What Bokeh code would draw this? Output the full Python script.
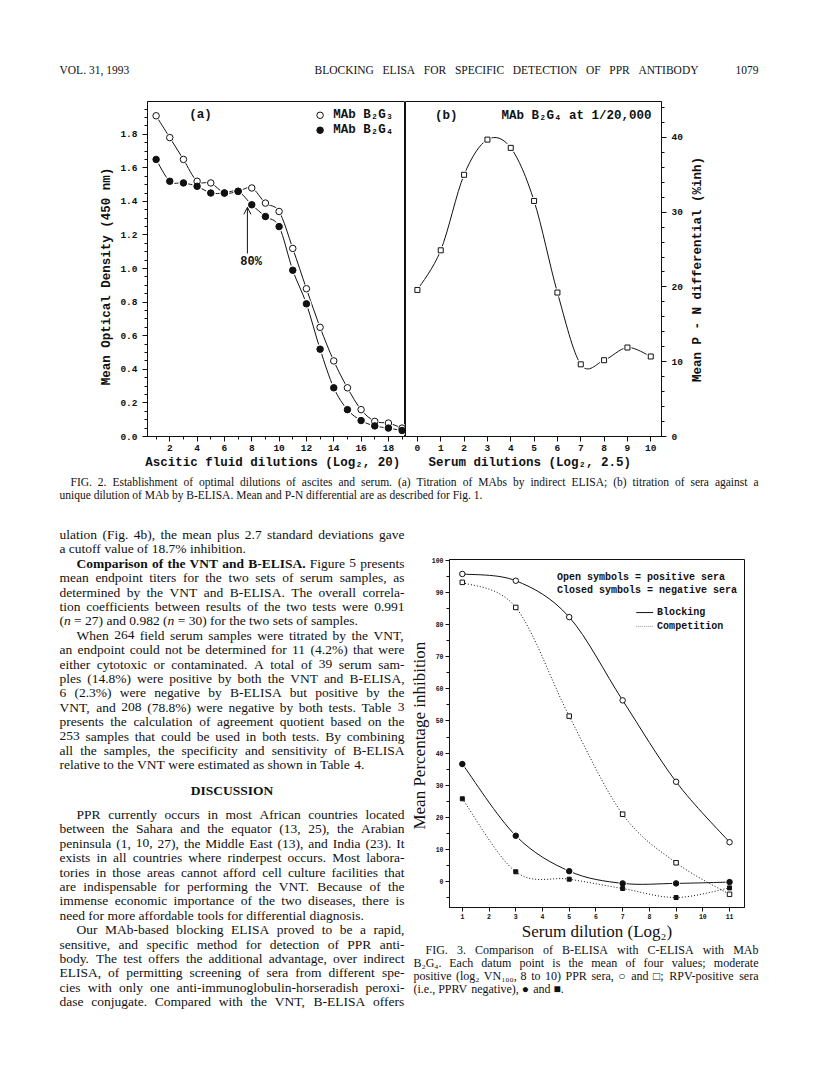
import math
from bokeh.plotting import figure
from bokeh.layouts import column, row
from bokeh.models import Range1d, Arrow, OpenHead, FixedTicker, NumeralTickFormatter
from bokeh.embed import file_html
from bokeh.resources import INLINE
from bokeh.core.properties import value

MONO = "Liberation Mono"
SERIF = "Liberation Serif"

# ---------------- data : Fig. 2a ----------------
a_dilution = list(range(1, 20))
a_b2g3 = [1.91, 1.78, 1.65, 1.52, 1.51, 1.45, 1.46, 1.48, 1.39, 1.34, 1.12, 0.88, 0.65, 0.45, 0.29, 0.16, 0.09, 0.08, 0.05]
a_b2g4 = [1.65, 1.52, 1.51, 1.49, 1.45, 1.45, 1.46, 1.38, 1.31, 1.25, 0.99, 0.79, 0.52, 0.29, 0.16, 0.095, 0.063, 0.05, 0.036]
a_xticks = [2, 4, 6, 8, 10, 12, 14, 16, 18]
a_yticks = [0.0, 0.2, 0.4, 0.6, 0.8, 1.0, 1.2, 1.4, 1.6, 1.8]

# ---------------- data : Fig. 2b ----------------
b_dilution = list(range(0, 11))
b_pn = [19.6, 24.9, 35.0, 39.7, 38.6, 31.5, 19.25, 9.65, 10.2, 11.9, 10.7]
b_xticks = list(range(0, 11))
b_yticks = [0, 10, 20, 30, 40]

# ---------------- data : Fig. 3 ----------------
f3_dilution = [1, 3, 5, 7, 9, 11]
f3_block_pos = [95.7, 93.6, 82.3, 56.4, 31.1, 12.3]
f3_comp_pos = [93.1, 85.3, 51.5, 21.0, 5.9, -3.9]
f3_block_neg = [36.6, 14.3, 3.3, -0.5, -0.5, -0.1]
f3_comp_neg = [25.8, 3.1, 0.8, -2.1, -4.9, -1.9]
f3_xticks = list(range(1, 12))
f3_yticks = [0, 10, 20, 30, 40, 50, 60, 70, 80, 90, 100]

# ---------------- texts ----------------
header_left = "VOL. 31, 1993"
header_title = "BLOCKING ELISA FOR SPECIFIC DETECTION OF PPR ANTIBODY"
header_page = "1079"
fig2b_ylabel = "Mean P - N differential (%inh)"

cap2_lines = [
    ("FIG. 2. Establishment of optimal dilutions of ascites and serum. (a) Titration of MAbs by indirect ELISA; (b) titration of sera against a", True, 11),
    ("unique dilution of MAb by B-ELISA. Mean and P-N differential are as described for Fig. 1.", False, 0),
]

body_lines_1 = [
    ("ulation (Fig. 4b), the mean plus 2.7 standard deviations gave", True, 0),
    ("a cutoff value of 18.7% inhibition.", False, 0),
    ("*Comparison of the VNT and B-ELISA.* Figure 5 presents", True, 17),
    ("mean endpoint titers for the two sets of serum samples, as", True, 0),
    ("determined by the VNT and B-ELISA. The overall correla-", True, 0),
    ("tion coefficients between results of the two tests were 0.991", True, 0),
    ("(_n_ = 27) and 0.982 (_n_ = 30) for the two sets of samples.", False, 0),
    ("When 264 field serum samples were titrated by the VNT,", True, 17),
    ("an endpoint could not be determined for 11 (4.2%) that were", True, 0),
    ("either cytotoxic or contaminated. A total of 39 serum sam-", True, 0),
    ("ples (14.8%) were positive by both the VNT and B-ELISA,", True, 0),
    ("6 (2.3%) were negative by B-ELISA but positive by the", True, 0),
    ("VNT, and 208 (78.8%) were negative by both tests. Table 3", True, 0),
    ("presents the calculation of agreement quotient based on the", True, 0),
    ("253 samples that could be used in both tests. By combining", True, 0),
    ("all the samples, the specificity and sensitivity of B-ELISA", True, 0),
    ("relative to the VNT were estimated as shown in Table 4.", False, 0),
]
discussion_head = "DISCUSSION"
body_lines_2 = [
    ("PPR currently occurs in most African countries located", True, 17),
    ("between the Sahara and the equator (13, 25), the Arabian", True, 0),
    ("peninsula (1, 10, 27), the Middle East (13), and India (23). It", True, 0),
    ("exists in all countries where rinderpest occurs. Most labora-", True, 0),
    ("tories in those areas cannot afford cell culture facilities that", True, 0),
    ("are indispensable for performing the VNT. Because of the", True, 0),
    ("immense economic importance of the two diseases, there is", True, 0),
    ("need for more affordable tools for differential diagnosis.", False, 0),
    ("Our MAb-based blocking ELISA proved to be a rapid,", True, 17),
    ("sensitive, and specific method for detection of PPR anti-", True, 0),
    ("body. The test offers the additional advantage, over indirect", True, 0),
    ("ELISA, of permitting screening of sera from different spe-", True, 0),
    ("cies with only one anti-immunoglobulin-horseradish peroxi-", True, 0),
    ("dase conjugate. Compared with the VNT, B-ELISA offers", True, 0),
]
cap3_lines = [
    ("FIG. 3. Comparison of B-ELISA with C-ELISA with MAb", True, 12),
    ("B\u2082G\u2084. Each datum point is the mean of four values; moderate", True, 0),
    ("positive (log\u2082 VN\u2081\u2080\u2080, 8 to 10) PPR sera, \u25cb and \u25a1; RPV-positive sera", True, 0),
    ("(i.e., PPRV negative), \u25cf and \u25a0.", False, 0),
]

# ---------------- font metrics (Times, 1/1000 em) ----------------
_TR = {' ': 250, '!': 333, '"': 408, '%': 833, '&': 778, "'": 333, '(': 333, ')': 333, ',': 250, '-': 333,
       '.': 250, '/': 278, ':': 278, ';': 278, '=': 564, '?': 444,
       'A': 722, 'B': 667, 'C': 667, 'D': 722, 'E': 611, 'F': 556, 'G': 722, 'H': 722, 'I': 333, 'J': 389,
       'K': 722, 'L': 611, 'M': 889, 'N': 722, 'O': 722, 'P': 556, 'Q': 722, 'R': 667, 'S': 556, 'T': 611,
       'U': 722, 'V': 722, 'W': 944, 'X': 722, 'Y': 722, 'Z': 611,
       'a': 444, 'b': 500, 'c': 444, 'd': 500, 'e': 444, 'f': 333, 'g': 500, 'h': 500, 'i': 278, 'j': 278,
       'k': 500, 'l': 278, 'm': 778, 'n': 500, 'o': 500, 'p': 500, 'q': 500, 'r': 333, 's': 389, 't': 278,
       'u': 500, 'v': 500, 'w': 722, 'x': 500, 'y': 500, 'z': 444,
       '\u2080': 330, '\u2081': 330, '\u2082': 330, '\u2084': 330,
       '\u25cb': 700, '\u25a1': 700, '\u25cf': 700, '\u25a0': 700}
_TB = dict(_TR)
_TB.update({'A': 722, 'B': 667, 'C': 722, 'D': 722, 'E': 667, 'F': 611, 'G': 778, 'H': 778, 'I': 389, 'J': 500,
            'K': 778, 'L': 667, 'M': 944, 'N': 722, 'O': 778, 'P': 611, 'Q': 778, 'R': 722, 'S': 556, 'T': 667,
            'U': 722, 'V': 722, 'W': 1000, 'X': 722, 'Y': 722, 'Z': 667,
            'a': 500, 'b': 556, 'c': 444, 'd': 556, 'e': 444, 'f': 333, 'g': 500, 'h': 556, 'i': 278, 'j': 333,
            'k': 556, 'l': 278, 'm': 833, 'n': 556, 'o': 500, 'p': 556, 'q': 556, 'r': 444, 's': 389, 't': 333,
            'u': 556, 'v': 500, 'w': 722, 'x': 500, 'y': 500, 'z': 444})
for _d in '0123456789':
    _TR[_d] = 500
    _TB[_d] = 500


def seg_width(s, style, size):
    tab = _TB if style == "bold" else _TR
    return sum(tab.get(c, 500) for c in s) * size / 1000.0


def parse_words(txt):
    words, cur, seg = [], [], ""
    bold = ital = False
    for ch in txt + " ":
        st = "bold" if bold else ("italic" if ital else "normal")
        if ch in "*_":
            if seg:
                cur.append((seg, st))
                seg = ""
            if ch == "*":
                bold = not bold
            else:
                ital = not ital
        elif ch == " ":
            if seg:
                cur.append((seg, st))
                seg = ""
            if cur:
                words.append(cur)
                cur = []
        else:
            seg += ch
    return words


def set_lines(fig, specs, x_left, width, ys, size, ox, oy, font=SERIF):
    out = {"normal": ([], [], []), "bold": ([], [], []), "italic": ([], [], [])}
    for (txt, just, ind), y in zip(specs, ys):
        words = parse_words(txt)
        wl = [sum(seg_width(s, st, size) for s, st in w) for w in words]
        n = len(words)
        if just and n > 1:
            gap = (width - ind - sum(wl)) / (n - 1)
        else:
            gap = 0.25 * size
        x = x_left + ind
        for w, l in zip(words, wl):
            xx = x
            for s, st in w:
                out[st][0].append(xx - ox)
                out[st][1].append(y - oy)
                out[st][2].append(s)
                xx += seg_width(s, st, size)
            x += l + gap
    for st, (xs, yy, ts) in out.items():
        if xs:
            fig.text(x=xs, y=yy, text=ts, text_font=value(font), text_font_style=st,
                     text_font_size=f"{size}px", text_baseline="middle", text_align="left",
                     text_color="#111111")


def text_fig(w, h, flip=True):
    yr = Range1d(h, 0) if flip else Range1d(0, h)
    p = figure(width=w, height=h, x_range=Range1d(0, w), y_range=yr,
               toolbar_location=None, output_backend="svg",
               min_border_left=0, min_border_right=0, min_border_top=0, min_border_bottom=0)
    p.frame_align = False
    p.axis.visible = False
    p.xgrid.visible = False
    p.ygrid.visible = False
    p.outline_line_color = None
    p.background_fill_color = "white"
    p.border_fill_color = "white"
    return p


def catmull(xs, ys):
    pts = list(zip(xs, ys))
    n = len(pts)
    d = {k: [] for k in ("x0", "y0", "x1", "y1", "cx0", "cy0", "cx1", "cy1")}
    for i in range(n - 1):
        p0 = pts[i - 1] if i > 0 else pts[i]
        p1, p2 = pts[i], pts[i + 1]
        p3 = pts[i + 2] if i + 2 < n else pts[i + 1]
        d["x0"].append(p1[0]); d["y0"].append(p1[1])
        d["x1"].append(p2[0]); d["y1"].append(p2[1])
        d["cx0"].append(p1[0] + (p2[0] - p0[0]) / 6.0)
        d["cy0"].append(p1[1] + (p2[1] - p0[1]) / 6.0)
        d["cx1"].append(p2[0] - (p3[0] - p1[0]) / 6.0)
        d["cy1"].append(p2[1] - (p3[1] - p1[1]) / 6.0)
    return d


def curve(p, xs, ys, dash="solid", width=1.0, color="#111111"):
    d = catmull(xs, ys)
    p.bezier(x0=d["x0"], y0=d["y0"], x1=d["x1"], y1=d["y1"], cx0=d["cx0"], cy0=d["cy0"],
             cx1=d["cx1"], cy1=d["cy1"], line_color=color, line_width=width, line_dash=dash)


def style_axes(p, lab_size, lab_font=MONO, lab_style="bold"):
    p.xgrid.visible = False
    p.ygrid.visible = False
    p.outline_line_color = "#111111"
    p.outline_line_width = 1
    p.outline_line_alpha = 1.0
    p.background_fill_color = "white"
    p.border_fill_color = "white"
    for ax in p.axis:
        ax.axis_line_color = "#111111"
        ax.major_tick_line_color = "#111111"
        ax.minor_tick_line_color = "#111111"
        ax.major_tick_in = 0
        ax.major_tick_out = 5
        ax.minor_tick_in = 0
        ax.minor_tick_out = 3
        ax.major_label_text_font = lab_font
        ax.major_label_text_font_style = lab_style
        ax.major_label_text_font_size = lab_size
        ax.major_label_text_color = "#111111"
        ax.axis_label_text_color = "#111111"


# ================= header =================
hdr = text_fig(800, 88)
set_lines(hdr, [(header_left, False, 0)], 67, 100, [77], 11.5, 8, 8)
set_lines(hdr, [(header_title, True, 0)], 322, 384, [77], 11.5, 8, 8)
hdr.text(x=[766 - 8], y=[77 - 8], text=[header_page], text_font=value(SERIF), text_font_size="11.5px",
         text_baseline="middle", text_align="right", text_color="#111111")

# ================= Fig 2a =================
fa = figure(width=405, height=384, x_range=Range1d(0.37, 19.25), y_range=Range1d(0, 1.995),
            toolbar_location=None, output_backend="svg",
            min_border_left=147, min_border_right=0, min_border_top=13, min_border_bottom=35)
style_axes(fa, "9.5px")
fa.xaxis.ticker = FixedTicker(ticks=a_xticks, minor_ticks=list(range(1, 20)))
fa.yaxis.ticker = FixedTicker(ticks=a_yticks, minor_ticks=[round(0.05 * k, 2) for k in range(0, 40)])
fa.yaxis.formatter = NumeralTickFormatter(format="0.0")
fa.xaxis.major_label_standoff = 3
fa.yaxis.major_label_standoff = 5
fa.xaxis.axis_label = "Ascitic fluid dilutions (Log\u2082,  20)"
fa.yaxis.axis_label = "Mean  Optical Density  (450 nm)"
for ax in (fa.xaxis[0], fa.yaxis[0]):
    ax.axis_label_text_font = MONO
    ax.axis_label_text_font_style = "bold"
    ax.axis_label_text_font_size = "12.5px"
fa.xaxis.axis_label_standoff = 2
fa.yaxis.axis_label_standoff = 3

curve(fa, a_dilution, a_b2g3)
curve(fa, a_dilution, a_b2g4)
fa.scatter(a_dilution, a_b2g4, marker="circle", size=10, fill_color="white", line_color=None)
fa.scatter(a_dilution, a_b2g3, marker="circle", size=9, fill_color="white", line_color=None)
fa.scatter(a_dilution, a_b2g3, marker="circle", size=6.5, fill_color="white", line_color="#111111", line_width=1)
fa.scatter(a_dilution, a_b2g4, marker="circle", size=6.5, fill_color="#111111", line_color="#111111")
fa.text(x=[4.24], y=[1.913], text=["(a)"], text_font=value(MONO), text_font_style="bold",
        text_font_size="12.5px", text_baseline="middle", text_align="center", text_color="#111111")
fa.scatter([13.0], [1.913], marker="circle", size=6.5, fill_color="white", line_color="#111111")
fa.scatter([13.0], [1.824], marker="circle", size=6.5, fill_color="#111111", line_color="#111111")
fa.text(x=[13.97, 13.97], y=[1.913, 1.824], text=["MAb B\u2082G\u2083", "MAb B\u2082G\u2084"],
        text_font=value(MONO), text_font_style="bold", text_font_size="12.5px",
        text_baseline="middle", text_align="left", text_color="#111111")
fa.add_layout(Arrow(end=OpenHead(size=7, line_width=1, line_color="#111111"), x_start=7.68, y_start=1.09,
                    x_end=7.68, y_end=1.365, line_width=1, line_color="#111111"))
fa.text(x=[7.95], y=[1.04], text=["80%"], text_font=value(MONO), text_font_style="bold",
        text_font_size="12px", text_baseline="middle", text_align="center", text_color="#111111")

# ================= Fig 2b =================
FB_W = 696 - 413
fb = figure(width=FB_W, height=384, x_range=Range1d(-0.51, 10.46), y_range=Range1d(0, 44.8),
            y_axis_location="right", toolbar_location=None, output_backend="svg",
            min_border_left=0, min_border_right=696 - 669, min_border_top=13, min_border_bottom=35)
style_axes(fb, "9.5px")
fb.xaxis.ticker = FixedTicker(ticks=b_xticks, minor_ticks=[])
fb.yaxis.ticker = FixedTicker(ticks=b_yticks, minor_ticks=list(range(0, 45, 2)))
fb.xaxis.major_label_standoff = 3
fb.yaxis.major_label_standoff = 5
fb.xaxis.axis_label = "Serum dilutions (Log\u2082,  2.5)"
fb.xaxis.axis_label_text_font = MONO
fb.xaxis.axis_label_text_font_style = "bold"
fb.xaxis.axis_label_text_font_size = "12.5px"
fb.xaxis.axis_label_standoff = 2
curve(fb, b_dilution, b_pn)
fb.scatter(b_dilution, b_pn, marker="square", size=8, fill_color="white", line_color=None)
fb.scatter(b_dilution, b_pn, marker="square", size=5, fill_color="white", line_color="#111111", line_width=1)
fb.text(x=[1.24], y=[42.9], text=["(b)"], text_font=value(MONO), text_font_style="bold",
        text_font_size="12.5px", text_baseline="middle", text_align="center", text_color="#111111")
fb.text(x=[10.03], y=[42.9], text=["MAb B\u2082G\u2084 at 1/20,000"], text_font=value(MONO),
        text_font_style="bold", text_font_size="12.5px", text_baseline="middle", text_align="right",
        text_color="#111111")

# right-hand axis title of Fig 2b (reads bottom to top)
lab2b = text_fig(808 - 696, 384, flip=False)
lab2b.text(x=[705 - 696], y=[384 - (277 - 96)], text=[fig2b_ylabel], angle=math.pi / 2,
           text_font=value(MONO), text_font_style="bold", text_font_size="12.5px",
           text_baseline="middle", text_align="center", text_color="#111111")

# ================= Fig 2 caption =================
cap2 = text_fig(800, 48)
set_lines(cap2, cap2_lines, 67, 699, [489, 502], 11.5, 8, 480)

# ================= body text =================
BODY_W = 406
body = text_fig(BODY_W, 551)
ys1 = [542 + 14.4 * i for i in range(len(body_lines_1))]
set_lines(body, body_lines_1, 67, 345, ys1, 13.5, 8, 528)
body.text(x=[239.5 - 8], y=[798 - 528], text=[discussion_head], text_font=value(SERIF), text_font_style="bold",
          text_font_size="13.5px", text_baseline="middle", text_align="center", text_color="#111111")
ys2 = [822 + 14.4 * i for i in range(len(body_lines_2))]
set_lines(body, body_lines_2, 67, 345, ys2, 13.5, 8, 528)

# ================= Fig 3 =================
F3X = 8 + BODY_W
F3W = 800 - BODY_W
F3H = 951 - 528
f3 = figure(width=F3W, height=F3H, x_range=Range1d(0.52, 11.56), y_range=Range1d(-8, 100.2),
            toolbar_location=None, output_backend="svg",
            min_border_left=455 - F3X, min_border_right=808 - 752, min_border_top=567 - 528,
            min_border_bottom=951 - 917)
f3.frame_align = False
style_axes(f3, "6.5px")
for ax in f3.axis:
    ax.major_tick_out = 4
    ax.minor_tick_out = 3
f3.xaxis.ticker = FixedTicker(ticks=f3_xticks, minor_ticks=[])
f3.yaxis.ticker = FixedTicker(ticks=f3_yticks, minor_ticks=list(range(-5, 101, 5)))
f3.xaxis.major_label_standoff = 2
f3.yaxis.major_label_standoff = 2
f3.xaxis.axis_label = "Serum dilution (Log\u2082)"
f3.yaxis.axis_label = "Mean  Percentage inhibition"
for ax in (f3.xaxis[0], f3.yaxis[0]):
    ax.axis_label_text_font = SERIF
    ax.axis_label_text_font_style = "normal"
    ax.axis_label_text_font_size = "17px"
f3.xaxis.axis_label_standoff = 0
f3.yaxis.axis_label_standoff = 0

curve(f3, f3_dilution, f3_block_pos)
curve(f3, f3_dilution, f3_block_neg)
curve(f3, f3_dilution, f3_comp_pos, dash="1 2")
curve(f3, f3_dilution, f3_comp_neg, dash="1 2")
f3.scatter(f3_dilution, f3_block_pos, marker="circle", size=5.5, fill_color="white", line_color="#111111")
f3.scatter(f3_dilution, f3_comp_pos, marker="square", size=4.5, fill_color="white", line_color="#111111")
f3.scatter(f3_dilution, f3_block_neg, marker="circle", size=8, fill_color="white", line_color=None)
f3.scatter(f3_dilution, f3_block_neg, marker="circle", size=5.5, fill_color="#111111", line_color="#111111")
f3.scatter(f3_dilution, f3_comp_neg, marker="square", size=4, fill_color="#111111", line_color="#111111")
f3.text(x=[4.54, 4.54], y=[94.5, 90.5], text=["Open symbols = positive sera", "Closed symbols = negative sera"],
        text_font=value(MONO), text_font_style="bold", text_font_size="10px",
        text_baseline="middle", text_align="left", text_color="#111111")
f3.line([7.51, 8.14], [83.7, 83.7], line_color="#111111", line_width=1)
f3.line([7.51, 8.14], [79.4, 79.4], line_color="#999999", line_width=1, line_dash="1 1")
f3.text(x=[8.29, 8.29], y=[83.7, 79.4], text=["Blocking", "Competition"],
        text_font=value(MONO), text_font_style="bold", text_font_size="10px",
        text_baseline="middle", text_align="left", text_color="#111111")

# ================= Fig 3 caption =================
cap3 = text_fig(F3W, 1079 - 951)
set_lines(cap3, cap3_lines, 421, 345, [957, 970, 983, 996], 12, F3X, 951)

layout = column(hdr, row(fa, fb, lab2b), cap2, row(body, column(f3, cap3)))
open("out.html", "w").write(file_html(layout, INLINE))
